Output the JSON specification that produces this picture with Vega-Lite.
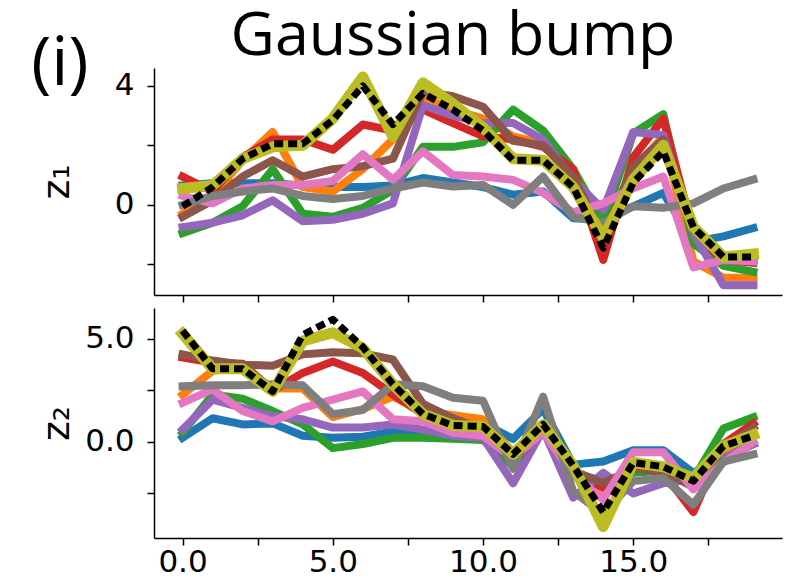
{
  "$schema": "https://vega.github.io/schema/vega-lite/v6.json",
  "background": "white",
  "padding": {"left": 31, "top": 6, "right": 5, "bottom": 5},
  "title": {"text": "(i)", "anchor": "start", "frame": "bounds", "font": "Open Sans", "fontSize": 68, "fontWeight": "normal", "color": "black", "offset": -93, "dx": -7},
  "datasets": {
    "z1": [
      {"x":0,"blue":0.65,"orange":-0.3,"green":-0.95,"red":0.95,"purple":-0.75,"brown":-0.4,"pink":0.3,"gray":0.0,"olive":0.55,"truth":-0.05},
      {"x":1,"blue":0.73,"orange":0.3,"green":-0.6,"red":0.45,"purple":-0.6,"brown":0.15,"pink":0.05,"gray":0.3,"olive":0.65,"truth":0.6},
      {"x":2,"blue":0.73,"orange":1.5,"green":-0.05,"red":1.6,"purple":-0.35,"brown":0.95,"pink":0.55,"gray":0.45,"olive":1.55,"truth":1.55},
      {"x":3,"blue":0.73,"orange":2.45,"green":1.2,"red":2.2,"purple":0.15,"brown":1.5,"pink":0.67,"gray":0.55,"olive":1.95,"truth":2.05},
      {"x":4,"blue":0.65,"orange":0.6,"green":-0.3,"red":2.2,"purple":-0.55,"brown":0.95,"pink":0.67,"gray":0.3,"olive":2.0,"truth":2.05},
      {"x":5,"blue":0.6,"orange":0.45,"green":-0.4,"red":1.85,"purple":-0.5,"brown":1.2,"pink":0.8,"gray":0.2,"olive":2.9,"truth":2.85},
      {"x":6,"blue":0.6,"orange":1.2,"green":-0.1,"red":2.7,"purple":-0.3,"brown":1.3,"pink":1.7,"gray":0.3,"olive":4.3,"truth":4.0},
      {"x":7,"blue":0.65,"orange":2.2,"green":0.5,"red":2.5,"purple":0.05,"brown":1.55,"pink":0.85,"gray":0.55,"olive":2.3,"truth":2.7},
      {"x":8,"blue":0.9,"orange":3.6,"green":1.95,"red":3.2,"purple":3.35,"brown":3.8,"pink":1.8,"gray":0.75,"olive":4.1,"truth":3.75},
      {"x":9,"blue":0.75,"orange":3.2,"green":1.95,"red":2.75,"purple":3.0,"brown":3.65,"pink":1.0,"gray":0.62,"olive":3.4,"truth":3.2},
      {"x":10,"blue":0.6,"orange":2.9,"green":2.1,"red":2.3,"purple":2.75,"brown":3.3,"pink":0.95,"gray":0.67,"olive":2.6,"truth":2.5},
      {"x":11,"blue":0.34,"orange":2.3,"green":3.2,"red":2.2,"purple":2.75,"brown":2.15,"pink":0.84,"gray":0.0,"olive":1.55,"truth":1.5},
      {"x":12,"blue":0.45,"orange":2.05,"green":2.5,"red":1.95,"purple":2.2,"brown":2.0,"pink":0.4,"gray":0.95,"olive":1.5,"truth":1.5},
      {"x":13,"blue":-0.45,"orange":0.95,"green":1.2,"red":1.2,"purple":0.84,"brown":0.95,"pink":-0.25,"gray":-0.4,"olive":0.6,"truth":0.6},
      {"x":14,"blue":-0.5,"orange":-0.95,"green":-0.6,"red":-1.85,"purple":-0.17,"brown":-1.06,"pink":0.05,"gray":-0.6,"olive":-1.1,"truth":-1.45},
      {"x":15,"blue":-0.05,"orange":1.2,"green":2.4,"red":1.6,"purple":2.45,"brown":1.3,"pink":0.56,"gray":-0.05,"olive":0.85,"truth":0.75},
      {"x":16,"blue":0.4,"orange":2.3,"green":3.05,"red":2.9,"purple":2.35,"brown":2.2,"pink":0.95,"gray":-0.1,"olive":2.0,"truth":1.8},
      {"x":17,"blue":-1.25,"orange":-1.9,"green":-1.3,"red":-0.95,"purple":-0.95,"brown":-0.85,"pink":-2.1,"gray":0.05,"olive":-0.75,"truth":-0.75},
      {"x":18,"blue":-1.06,"orange":-2.45,"green":-2.05,"red":-1.85,"purple":-2.7,"brown":-1.75,"pink":-1.85,"gray":0.55,"olive":-1.75,"truth":-1.75},
      {"x":19,"blue":-0.78,"orange":-2.45,"green":-2.25,"red":-1.95,"purple":-2.7,"brown":-1.9,"pink":-1.9,"gray":0.85,"olive":-1.65,"truth":-1.75}
    ],
    "z2": [
      {"x":0,"blue":0.2,"orange":2.3,"green":0.45,"red":4.1,"purple":0.6,"brown":4.25,"pink":1.9,"gray":2.7,"olive":5.25,"truth":5.4},
      {"x":1,"blue":1.15,"orange":3.45,"green":2.3,"red":3.85,"purple":2.05,"brown":3.95,"pink":2.55,"gray":2.75,"olive":3.55,"truth":3.55},
      {"x":2,"blue":0.85,"orange":3.6,"green":2.1,"red":3.8,"purple":1.65,"brown":3.75,"pink":1.5,"gray":2.75,"olive":3.55,"truth":3.55},
      {"x":3,"blue":0.9,"orange":2.6,"green":1.5,"red":2.5,"purple":1.25,"brown":3.7,"pink":1.0,"gray":2.8,"olive":2.45,"truth":2.45},
      {"x":4,"blue":0.3,"orange":2.6,"green":0.85,"red":3.35,"purple":1.1,"brown":4.25,"pink":1.65,"gray":2.75,"olive":4.9,"truth":5.2},
      {"x":5,"blue":0.2,"orange":1.2,"green":-0.3,"red":3.9,"purple":0.7,"brown":4.35,"pink":2.05,"gray":1.35,"olive":5.3,"truth":5.95},
      {"x":6,"blue":0.25,"orange":1.6,"green":-0.1,"red":3.35,"purple":0.7,"brown":4.3,"pink":2.45,"gray":1.55,"olive":4.55,"truth":4.6},
      {"x":7,"blue":0.5,"orange":2.2,"green":0.2,"red":2.3,"purple":0.85,"brown":4.0,"pink":1.1,"gray":2.8,"olive":2.8,"truth":2.8},
      {"x":8,"blue":0.45,"orange":1.5,"green":0.2,"red":1.35,"purple":0.6,"brown":1.85,"pink":1.0,"gray":2.7,"olive":1.35,"truth":1.35},
      {"x":9,"blue":0.3,"orange":1.3,"green":0.15,"red":0.95,"purple":0.3,"brown":1.15,"pink":0.45,"gray":2.15,"olive":0.8,"truth":0.8},
      {"x":10,"blue":0.9,"orange":1.1,"green":0.1,"red":0.5,"purple":0.2,"brown":0.6,"pink":0.3,"gray":2.0,"olive":0.75,"truth":0.75},
      {"x":11,"blue":0.15,"orange":-0.5,"green":-1.2,"red":-0.9,"purple":-2.0,"brown":-1.0,"pink":-0.8,"gray":-1.3,"olive":-0.6,"truth":-0.6},
      {"x":12,"blue":1.6,"orange":0.7,"green":0.6,"red":0.7,"purple":0.6,"brown":0.6,"pink":0.5,"gray":2.2,"olive":0.85,"truth":0.85},
      {"x":13,"blue":-1.1,"orange":-1.3,"green":-1.5,"red":-1.5,"purple":-2.7,"brown":-1.4,"pink":-1.6,"gray":-2.4,"olive":-1.15,"truth":-1.15},
      {"x":14,"blue":-0.95,"orange":-2.5,"green":-1.9,"red":-2.2,"purple":-1.5,"brown":-2.0,"pink":-2.8,"gray":-3.5,"olive":-4.1,"truth":-3.4},
      {"x":15,"blue":-0.4,"orange":-1.1,"green":-1.5,"red":-1.2,"purple":-2.5,"brown":-1.3,"pink":-0.5,"gray":-1.9,"olive":-1.0,"truth":-1.0},
      {"x":16,"blue":-0.4,"orange":-1.3,"green":-1.4,"red":-1.5,"purple":-2.0,"brown":-1.4,"pink":-0.5,"gray":-1.75,"olive":-1.2,"truth":-1.2},
      {"x":17,"blue":-1.5,"orange":-1.9,"green":-1.8,"red":-3.4,"purple":-1.8,"brown":-2.2,"pink":-2.3,"gray":-3.05,"olive":-1.75,"truth":-1.9},
      {"x":18,"blue":-0.7,"orange":-0.4,"green":0.65,"red":-0.1,"purple":-0.8,"brown":-0.3,"pink":-1.0,"gray":-0.95,"olive":-0.2,"truth":-0.2},
      {"x":19,"blue":-0.1,"orange":0.4,"green":1.2,"red":0.9,"purple":-0.1,"brown":0.7,"pink":0.0,"gray":-0.6,"olive":0.35,"truth":0.3}
    ]
  },
  "spacing": 5,
  "vconcat": [
    {
      "width": 628,
      "height": 227,
      "title": {"text": "Gaussian bump", "anchor": "middle", "frame": "group", "font": "Open Sans", "fontSize": 61, "fontWeight": "normal", "color": "black", "offset": 0, "dx": -15},
      "encoding": {
        "x": {"field": "x", "type": "quantitative", "scale": {"domain": [-0.95, 19.95], "nice": false, "zero": false}, "axis": {"title": null, "labels": false, "values": [0,2.5,5,7.5,10,12.5,15,17.5]}},
        "y": {"field": "value", "type": "quantitative", "scale": {"domain": [-3.03, 4.6], "nice": false, "zero": false}, "axis": {"title": "z₁", "values": [-2,0,2,4], "labelExpr": "datum.value % 4 == 0 ? format(datum.value, 'd') : ''", "titlePadding": 38}}
      },
      "layer": [
        {"data": {"name": "z1"},
         "transform": [{"fold": ["blue","orange","green","red","purple","brown","pink","gray"], "as": ["series","value"]}],
         "mark": {"type": "line", "strokeWidth": 8, "strokeCap": "square", "strokeJoin": "round"},
         "encoding": {"color": {"field": "series", "type": "nominal", "legend": null, "scale": {"domain": ["blue","orange","green","red","purple","brown","pink","gray"], "range": ["#1f77b4","#ff7f0e","#2ca02c","#d62728","#9467bd","#8c564b","#e377c2","#7f7f7f"]}}}},
        {"data": {"name": "z1"},
         "transform": [{"fold": ["olive"], "as": ["series","value"]}],
         "mark": {"type": "line", "strokeWidth": 11, "color": "#bcbd22", "strokeCap": "square", "strokeJoin": "round"},
         "encoding": {}},
        {"data": {"name": "z1"},
         "transform": [{"fold": ["truth"], "as": ["series","value"]}],
         "mark": {"type": "line", "strokeWidth": 7, "color": "black", "strokeDash": [9, 5], "strokeCap": "butt", "strokeJoin": "round"},
         "encoding": {}}
      ]
    },
    {
      "width": 628,
      "height": 230,
      "encoding": {
        "x": {"field": "x", "type": "quantitative", "scale": {"domain": [-0.95, 19.95], "nice": false, "zero": false}, "axis": {"title": null, "values": [0,2.5,5,7.5,10,12.5,15,17.5], "labelExpr": "datum.value % 5 == 0 ? format(datum.value, '.1f') : ''", "labelPadding": 2}},
        "y": {"field": "value", "type": "quantitative", "scale": {"domain": [-4.66, 6.5], "nice": false, "zero": false}, "axis": {"title": "z₂", "values": [-2.5,0,2.5,5], "labelExpr": "datum.value % 5 == 0 ? format(datum.value, '.1f') : ''", "titlePadding": 8}}
      },
      "layer": [
        {"data": {"name": "z2"},
         "transform": [{"fold": ["blue","orange","green","red","purple","brown","pink","gray"], "as": ["series","value"]}],
         "mark": {"type": "line", "strokeWidth": 8, "strokeCap": "square", "strokeJoin": "round"},
         "encoding": {"color": {"field": "series", "type": "nominal", "legend": null, "scale": {"domain": ["blue","orange","green","red","purple","brown","pink","gray"], "range": ["#1f77b4","#ff7f0e","#2ca02c","#d62728","#9467bd","#8c564b","#e377c2","#7f7f7f"]}}}},
        {"data": {"name": "z2"},
         "transform": [{"fold": ["olive"], "as": ["series","value"]}],
         "mark": {"type": "line", "strokeWidth": 11, "color": "#bcbd22", "strokeCap": "square", "strokeJoin": "round"},
         "encoding": {}},
        {"data": {"name": "z2"},
         "transform": [{"fold": ["truth"], "as": ["series","value"]}],
         "mark": {"type": "line", "strokeWidth": 7, "color": "black", "strokeDash": [9, 5], "strokeCap": "butt", "strokeJoin": "round"},
         "encoding": {}}
      ]
    }
  ],
  "resolve": {"scale": {"color": "independent"}},
  "config": {
    "view": {"stroke": null},
    "axis": {"grid": false, "domainColor": "black", "domainWidth": 1.5, "tickColor": "black", "tickWidth": 1.5, "tickSize": 7, "labelFont": "DejaVu Sans", "labelFontSize": 31, "labelColor": "black", "labelPadding": 13, "titleFont": "DejaVu Sans", "titleFontSize": 38, "titleFontWeight": "normal", "titleColor": "black"}
  }
}
